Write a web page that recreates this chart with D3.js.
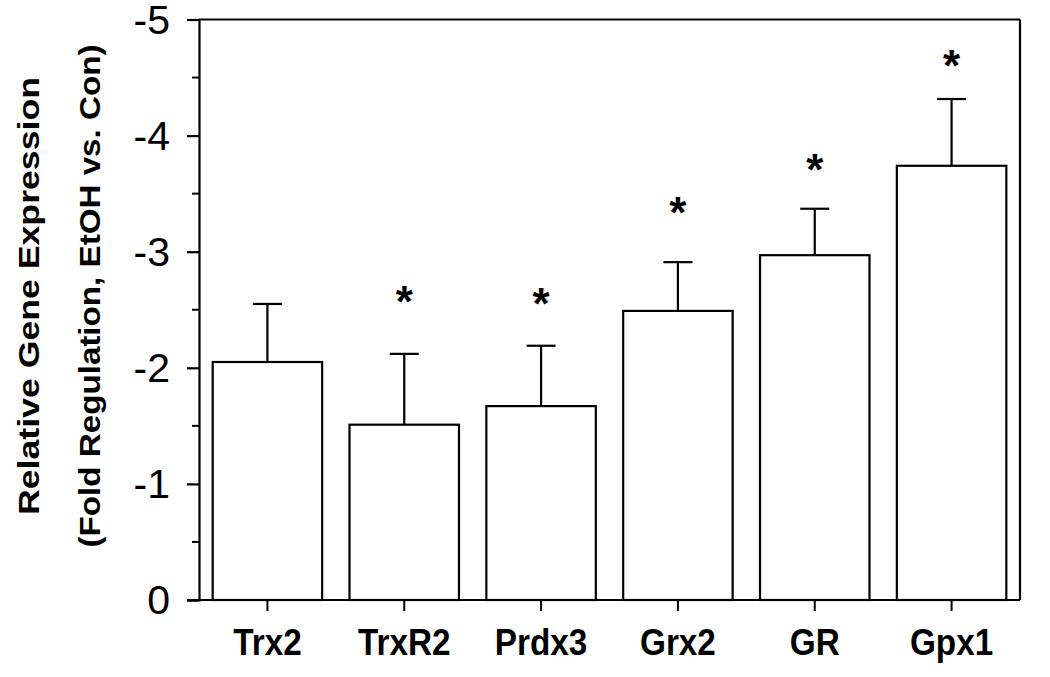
<!DOCTYPE html>
<html>
<head>
<meta charset="utf-8">
<script src="https://cdn.jsdelivr.net/npm/d3@7"></script>
<style>
  html, body { margin: 0; padding: 0; background: #fff; }
  svg { display: block; }
  text { font-family: "Liberation Sans", Arial, Helvetica, sans-serif; fill: #000; }
</style>
</head>
<body>
<svg id="chart" width="1050" height="677"></svg>
<script>
// ---- data ----
const categories = ["Trx2", "TrxR2", "Prdx3", "Grx2", "GR", "Gpx1"];
const values     = [-2.05, -1.51, -1.67, -2.49, -2.97, -3.74];
const errors     = [0.50, 0.61, 0.52, 0.42, 0.40, 0.575];
const starLevels = [null, -2.65, -2.64, -3.42, -3.79, -4.69];
const yTicks     = [0, -1, -2, -3, -4, -5];
const yMinorTicks = [-0.5, -1.5, -2.5, -3.5, -4.5];
const yTitleLines = ["Relative Gene Expression", "(Fold Regulation, EtOH vs. Con)"];

// ---- layout ----
const W = 1050, H = 677;
const m = { top: 19.5, right: 30, bottom: 77, left: 199 };
const svg = d3.select("#chart");

const x = d3.scaleBand()
  .domain(categories)
  .range([m.left, W - m.right])
  .paddingInner(0.2)
  .paddingOuter(0.1);

const y = d3.scaleLinear()
  .domain([0, -5])
  .range([H - m.bottom, m.top]);

const data = categories.map((c, i) => ({ c, v: values[i], e: errors[i], s: starLevels[i] }));

// frame (top + right)
const frame = svg.append("g").attr("stroke", "#000").attr("stroke-width", 2.2).attr("fill", "none");
frame.append("line").attr("x1", m.left).attr("x2", W - m.right).attr("y1", y(-5)).attr("y2", y(-5));
frame.append("line").attr("x1", W - m.right).attr("x2", W - m.right).attr("y1", y(-5)).attr("y2", y(0));

// bars
svg.append("g").selectAll("rect").data(data).join("rect")
  .attr("x", d => x(d.c))
  .attr("width", x.bandwidth())
  .attr("y", d => y(d.v))
  .attr("height", d => y(0) - y(d.v))
  .attr("fill", "#fff")
  .attr("stroke", "#000")
  .attr("stroke-width", 2.2);

// error bars (one-sided, upward)
const eb = svg.append("g").attr("stroke", "#000").attr("stroke-width", 2.2);
data.forEach(d => {
  const cx = x(d.c) + x.bandwidth() / 2;
  eb.append("line").attr("x1", cx).attr("x2", cx).attr("y1", y(d.v)).attr("y2", y(d.v - d.e));
  eb.append("line").attr("x1", cx - 14.5).attr("x2", cx + 14.5).attr("y1", y(d.v - d.e)).attr("y2", y(d.v - d.e));
});

// significance stars
const starFs = 44;
svg.append("g").selectAll("text").data(data.filter(d => d.s !== null)).join("text")
  .attr("x", d => x(d.c) + x.bandwidth() / 2)
  .attr("y", d => y(d.s) + starFs * 0.57)
  .attr("text-anchor", "middle")
  .attr("font-size", starFs)
  .attr("font-weight", "bold")
  .text("*");

// y axis
const yAxis = svg.append("g")
  .attr("transform", `translate(${m.left},0)`)
  .call(d3.axisLeft(y).tickValues(yTicks).tickSize(12).tickPadding(17).tickFormat(d => String(d)));
yAxis.select(".domain").attr("stroke-width", 2.2);
yAxis.selectAll(".tick line").attr("stroke-width", 2.2);
yAxis.selectAll(".tick text").attr("font-size", 41).attr("font-family", "Liberation Sans, Arial, sans-serif").attr("dy", "0.33em");

// minor ticks
svg.append("g").attr("stroke", "#000").attr("stroke-width", 2)
  .selectAll("line").data(yMinorTicks).join("line")
  .attr("x1", m.left - 7).attr("x2", m.left)
  .attr("y1", d => y(d)).attr("y2", d => y(d));

// x axis
const xAxis = svg.append("g")
  .attr("transform", `translate(0,${y(0)})`)
  .call(d3.axisBottom(x).tickSize(11).tickSizeOuter(0).tickPadding(0));
xAxis.select(".domain").attr("stroke-width", 2.2)
  .attr("d", `M${m.left - 12},0H${W - m.right}`);
xAxis.selectAll(".tick line").attr("stroke-width", 2);
xAxis.selectAll(".tick text").remove();
xAxis.selectAll(".tick").append("text")
  .attr("text-anchor", "middle")
  .attr("font-size", 37)
  .attr("font-weight", "bold")
  .attr("transform", "translate(0,55) scale(0.9,1)")
  .text(d => d);

// y title
const titleG = svg.append("g").attr("transform", `translate(0,296) rotate(-90)`);
const titleBaselines = [39, 100];
const titleLengths = [438, 503];
titleG.selectAll("text").data(yTitleLines).join("text")
  .attr("x", 0)
  .attr("y", (d, i) => titleBaselines[i])
  .attr("text-anchor", "middle")
  .attr("font-size", 30)
  .attr("font-weight", "bold")
  .attr("textLength", (d, i) => titleLengths[i])
  .attr("lengthAdjust", "spacingAndGlyphs")
  .text(d => d);
</script>
</body>
</html>
